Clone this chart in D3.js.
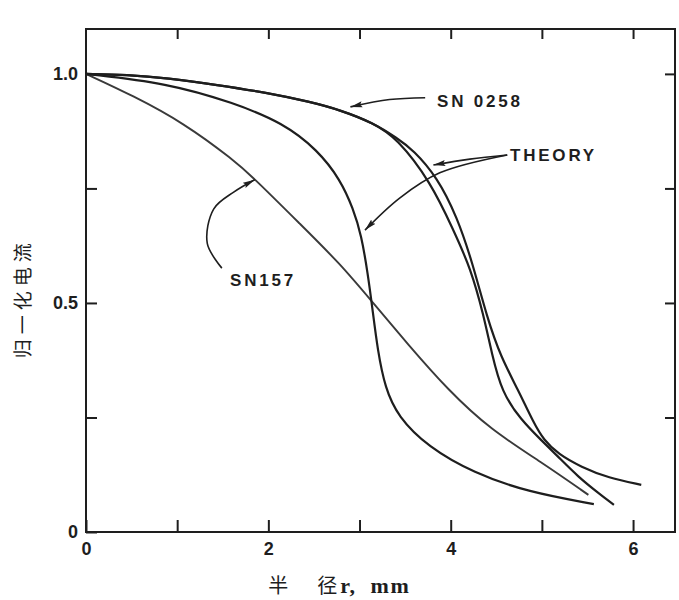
<!DOCTYPE html>
<html>
<head>
<meta charset="utf-8">
<script src="https://cdn.jsdelivr.net/npm/d3@7"></script>
<style>
  body { margin: 0; background: #fff; }
  svg { display: block; }
</style>
</head>
<body>
<svg width="679" height="600"></svg>
<script>
// curves: [radius r (mm), normalised current]
var sn157 = [[0, 1.0], [0.52, 0.952], [1.07, 0.893], [1.62, 0.812], [1.86, 0.769], [2.35, 0.672],
  [2.79, 0.585], [3.14, 0.502], [3.53, 0.41], [3.97, 0.31], [4.44, 0.223], [4.99, 0.153], [5.51, 0.081]];

var theoryA = [[0, 1.0], [0.89, 0.98], [1.62, 0.937], [2.16, 0.893], [2.54, 0.834], [2.79, 0.769],
  [2.93, 0.706], [3.02, 0.648], [3.09, 0.565], [3.14, 0.49], [3.2, 0.395], [3.28, 0.315],
  [3.42, 0.252], [3.75, 0.186], [4.25, 0.129], [4.85, 0.087], [5.57, 0.061]];

var sn0258 = [[0, 1.0], [0.45, 0.998], [0.89, 0.991], [1.44, 0.976], [1.98, 0.959], [2.46, 0.939],
  [2.79, 0.921], [3.15, 0.893], [3.41, 0.86], [3.78, 0.764], [4.03, 0.659], [4.22, 0.575],
  [4.36, 0.474], [4.45, 0.39], [4.56, 0.305], [4.77, 0.245], [4.99, 0.201], [5.18, 0.164],
  [5.4, 0.12], [5.62, 0.085], [5.79, 0.059]];

var theoryB = [[0, 1.0], [0.45, 0.998], [0.89, 0.991], [1.44, 0.976], [1.98, 0.959], [2.46, 0.939],
  [2.79, 0.921], [3.15, 0.893], [3.41, 0.86], [3.59, 0.834], [3.85, 0.775], [4.07, 0.688],
  [4.24, 0.587], [4.4, 0.467], [4.55, 0.382], [4.74, 0.31], [4.91, 0.238], [5.02, 0.201],
  [5.18, 0.17], [5.43, 0.142], [5.73, 0.118], [6.09, 0.103]];

var xTicks = [0, 1, 2, 3, 4, 5, 6];
var xTickLabels = {0: "0", 2: "2", 4: "4", 6: "6"};
var yTicks = [0, 0.25, 0.5, 0.75, 1.0];
var yTickLabels = {0: "0", 0.5: "0.5", 1: "1.0"};

// labels and their pointer arrows, in data units
var labels = [
  {text: "SN157", x: 1.58, y: 0.537},
  {text: "SN 0258", x: 3.85, y: 0.928},
  {text: "THEORY", x: 4.65, y: 0.81}
];
var arrows = [
  [[1.49, 0.576], [1.33, 0.63], [1.4, 0.705], [1.62, 0.742], [1.85, 0.769]],
  [[3.72, 0.948], [3.33, 0.944], [2.9, 0.928]],
  [[4.62, 0.823], [4.21, 0.814], [3.81, 0.801]],
  [[4.62, 0.823], [3.88, 0.784], [3.44, 0.729], [3.06, 0.659]]
];

var svg = d3.select("svg"),
    margin = {left: 86, right: 675, top: 29, bottom: 532};

var x = d3.scaleLinear().domain([0, 6.46]).range([margin.left, margin.right]);
var y = d3.scaleLinear().domain([0, 1.098]).range([margin.bottom, margin.top]);

var ink = "#1e1e1e";

// frame
svg.append("rect")
    .attr("x", margin.left).attr("y", margin.top)
    .attr("width", margin.right - margin.left).attr("height", margin.bottom - margin.top)
    .attr("fill", "none").attr("stroke", ink).attr("stroke-width", 2);

// axes, ticks point inwards
var fmtX = function(d) { return xTickLabels[d] || ""; };
var fmtY = function(d) { return yTickLabels[d] || ""; };

svg.append("g").attr("transform", "translate(0," + margin.bottom + ")")
    .call(d3.axisBottom(x).tickValues(xTicks).tickSize(-12).tickPadding(10).tickFormat(fmtX));
svg.append("g").attr("transform", "translate(0," + margin.top + ")")
    .call(d3.axisTop(x).tickValues(xTicks.slice(1)).tickSize(-10).tickFormat(""));
svg.append("g").attr("transform", "translate(" + margin.left + ",0)")
    .call(d3.axisLeft(y).tickValues(yTicks).tickSize(-11).tickPadding(8).tickFormat(fmtY));
svg.append("g").attr("transform", "translate(" + margin.right + ",0)")
    .call(d3.axisRight(y).tickValues(yTicks.slice(1)).tickSize(-10).tickFormat(""));

svg.selectAll(".domain").remove();
svg.selectAll(".tick line").attr("stroke", ink).attr("stroke-width", 2);
svg.selectAll(".tick text")
    .attr("fill", ink)
    .attr("font-family", "Liberation Sans, Arial, sans-serif")
    .attr("font-weight", "bold")
    .attr("font-size", 18);

// curves, smoothed through the read points
var line = d3.line()
    .x(function(d) { return x(d[0]); })
    .y(function(d) { return y(d[1]); })
    .curve(d3.curveBasis);

svg.append("g")
    .selectAll("path")
    .data([sn157, theoryA, sn0258, theoryB])
    .enter().append("path")
      .attr("d", line)
      .attr("fill", "none")
      .attr("stroke", function(d, i) { return i == 0 ? "#3a3a3a" : ink; })
      .attr("stroke-width", function(d, i) { return i == 0 ? 1.9 : 2.2; });

// arrowhead
svg.append("defs").append("marker")
    .attr("id", "head")
    .attr("viewBox", "0 -4 12 8")
    .attr("refX", 12).attr("refY", 0)
    .attr("markerWidth", 12).attr("markerHeight", 8)
    .attr("markerUnits", "userSpaceOnUse")
    .attr("orient", "auto")
  .append("path")
    .attr("d", "M0,-3L12,0L0,3L2,0Z")
    .attr("fill", ink);

var arrowLine = d3.line()
    .x(function(d) { return x(d[0]); })
    .y(function(d) { return y(d[1]); })
    .curve(d3.curveCatmullRom.alpha(0.5));

svg.append("g")
    .selectAll("path")
    .data(arrows)
    .enter().append("path")
      .attr("d", arrowLine)
      .attr("fill", "none")
      .attr("stroke", ink)
      .attr("stroke-width", 1.6)
      .attr("marker-end", "url(#head)");

svg.append("g")
    .attr("font-family", "Liberation Sans, Arial, sans-serif")
    .attr("font-weight", "bold")
    .attr("font-size", 17)
    .attr("letter-spacing", 2.8)
    .attr("fill", ink)
  .selectAll("text")
  .data(labels)
  .enter().append("text")
    .attr("x", function(d) { return x(d.x); })
    .attr("y", function(d) { return y(d.y); })
    .text(function(d) { return d.text; });

// axis titles
svg.append("text")
    .attr("transform", "translate(30," + y(0.51) + ") rotate(-90)")
    .attr("text-anchor", "middle")
    .attr("font-family", "Noto Sans CJK SC, sans-serif")
    .attr("font-size", 19)
    .attr("letter-spacing", 5)
    .attr("fill", ink)
    .text("归一化电流");

var xt = svg.append("text")
    .attr("x", x(2.0))
    .attr("y", 593)
    .attr("fill", ink);
xt.append("tspan").attr("font-family", "Noto Sans CJK SC, sans-serif").attr("font-size", 20).text("半");
xt.append("tspan").attr("dx", 29).attr("font-family", "Noto Sans CJK SC, sans-serif").attr("font-size", 20).text("径");
xt.append("tspan").attr("dx", 3).attr("font-family", "Liberation Serif, serif").attr("font-weight", "bold")
    .attr("font-size", 22).attr("letter-spacing", 1.5).text("r,\u00a0 mm");
</script>
</body>
</html>
